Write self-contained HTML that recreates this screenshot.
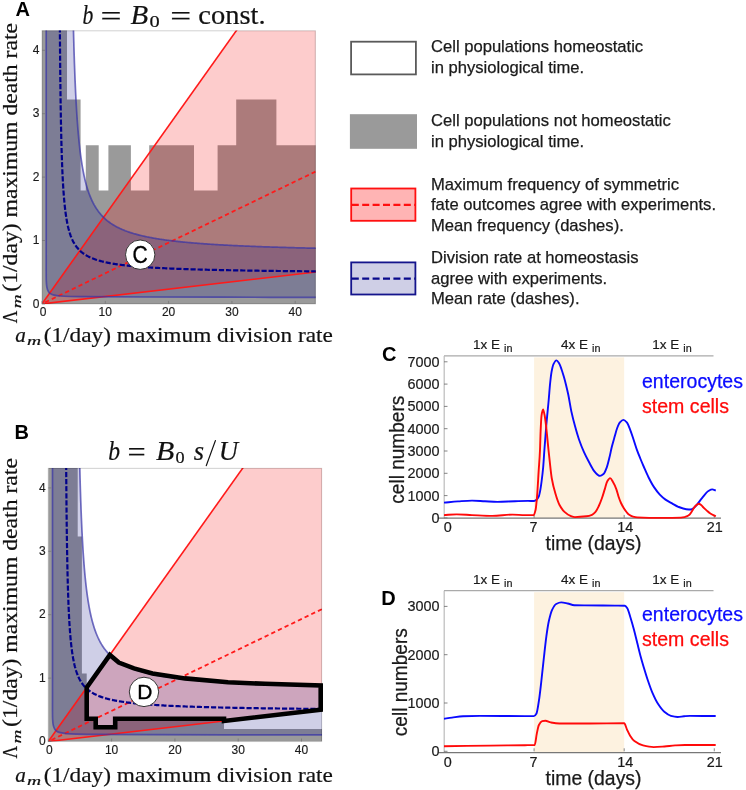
<!DOCTYPE html>
<html><head><meta charset="utf-8"><style>
html,body{margin:0;padding:0;background:#fff;}
body{width:746px;height:790px;overflow:hidden;}
svg{display:block;will-change:transform;}
text{font-family:"Liberation Sans",sans-serif;fill:#111;}
.tk{font-size:12px;fill:#1a1a1a;stroke:#1a1a1a;stroke-width:0.15px;}
.tk2{font-size:14.4px;fill:#1a1a1a;stroke:#1a1a1a;stroke-width:0.2px;}
.pl{font-size:20px;font-weight:bold;fill:#000;}
.pl2{font-size:20px;font-weight:bold;fill:#000;}
.cm{font-size:22.5px;fill:#000;stroke:#000;stroke-width:0.35px;}
.lg{font-size:16.6px;fill:#1a1a1a;stroke:#1a1a1a;stroke-width:0.25px;}
.ax{font-size:19.3px;fill:#1a1a1a;stroke:#1a1a1a;stroke-width:0.25px;}
.el{font-size:13.5px;fill:#1a1a1a;stroke:#1a1a1a;stroke-width:0.2px;}
.mi,.mr,.ms,.mi2,.mr2,.mis{font-family:"Liberation Serif",serif;fill:#111;stroke:#111;stroke-width:0.2px;}
.mi{font-size:27px;font-style:italic;}
.mr{font-size:27px;}
.ms{font-size:17px;}
.mi2{font-size:20px;font-style:italic;}
.mr2{font-size:22px;}
.mis{font-size:13px;font-style:italic;}
</style></head><body>
<svg width="746" height="790" viewBox="0 0 746 790">
<clipPath id="ca"><rect x="42" y="30.39" width="273.71" height="273.51"/></clipPath>
<g clip-path="url(#ca)">
<rect x="42" y="30.39" width="273.71" height="273.51" fill="#fff"/>
<path d="M42 303.9 L42 25 L67 25 L67 99.5 L80.6 99.5 L80.6 190.6 L85.8 190.6 L85.8 145.3 L98.7 145.3 L98.7 190.6 L108.4 190.6 L108.4 145.3 L130.9 145.3 L130.9 190.6 L149.2 190.6 L149.2 145.3 L194 145.3 L194 190.6 L217.6 190.6 L217.6 145.3 L236.2 145.3 L236.2 99.5 L276.4 99.5 L276.4 145.3 L320 145.3 L320 303.9Z" fill="#9a9a9a"/>
<path d="M42 303.9 L236.5 30.39 L421.8 30.39 L421.8 259.62Z" fill="rgb(245,0,0)" fill-opacity="0.2"/>
<path d="M46.2 13.9 L46.2 243.9 L46.2 273.9 L46.35 281.9 L46.9 287.3 L48.3 291.3 L50.4 293.6 L54.1 295.1 L60.1 296 L70 296.5 L86 296.7 L142 297 L222 297.2 L332 297.4 L322.04 248.37 L320.22 248.33 L318.41 248.29 L316.6 248.25 L314.8 248.21 L313.01 248.17 L311.23 248.13 L309.45 248.09 L307.69 248.05 L305.92 248.01 L304.17 247.96 L302.42 247.92 L300.68 247.88 L298.95 247.83 L297.22 247.79 L295.51 247.74 L293.8 247.7 L292.09 247.65 L290.4 247.61 L288.71 247.56 L287.02 247.51 L285.35 247.47 L283.68 247.42 L282.02 247.37 L280.37 247.32 L278.72 247.27 L277.08 247.22 L275.45 247.17 L273.83 247.12 L272.21 247.06 L270.6 247.01 L269 246.96 L267.4 246.9 L265.81 246.85 L264.23 246.8 L262.65 246.74 L261.09 246.68 L259.53 246.63 L257.97 246.57 L256.43 246.51 L254.89 246.45 L253.36 246.39 L251.83 246.33 L250.31 246.27 L248.8 246.21 L247.3 246.15 L245.8 246.08 L244.31 246.02 L242.83 245.96 L241.35 245.89 L239.88 245.83 L238.42 245.76 L236.97 245.69 L235.52 245.62 L234.08 245.55 L232.65 245.48 L231.22 245.41 L229.8 245.34 L228.39 245.27 L226.98 245.19 L225.58 245.12 L224.19 245.04 L222.81 244.97 L221.43 244.89 L220.06 244.81 L218.7 244.73 L217.34 244.65 L215.99 244.57 L214.65 244.49 L213.31 244.41 L211.98 244.32 L210.66 244.24 L209.34 244.15 L208.04 244.06 L206.74 243.97 L205.44 243.88 L204.15 243.79 L202.87 243.7 L201.6 243.61 L200.33 243.51 L199.07 243.42 L197.82 243.32 L196.57 243.22 L195.33 243.12 L194.1 243.02 L192.87 242.92 L191.65 242.81 L190.44 242.71 L189.24 242.6 L188.04 242.49 L186.85 242.38 L185.66 242.27 L184.48 242.16 L183.31 242.04 L182.15 241.93 L180.99 241.81 L179.84 241.69 L178.69 241.57 L177.56 241.45 L176.42 241.32 L175.3 241.19 L174.18 241.07 L173.07 240.94 L171.97 240.8 L170.87 240.67 L169.78 240.53 L168.7 240.4 L167.62 240.26 L166.55 240.11 L165.48 239.97 L164.43 239.82 L163.38 239.68 L162.33 239.52 L161.29 239.37 L160.26 239.22 L159.24 239.06 L158.22 238.9 L157.21 238.74 L156.21 238.57 L155.21 238.4 L154.22 238.23 L153.23 238.06 L152.26 237.88 L151.28 237.7 L150.32 237.52 L149.36 237.34 L148.41 237.15 L147.47 236.96 L146.53 236.77 L145.59 236.57 L144.67 236.37 L143.75 236.17 L142.84 235.96 L141.93 235.75 L141.03 235.53 L140.14 235.32 L139.25 235.1 L138.37 234.87 L137.5 234.64 L136.63 234.41 L135.77 234.17 L134.92 233.93 L134.07 233.69 L133.23 233.44 L132.39 233.18 L131.56 232.93 L130.74 232.66 L129.92 232.4 L129.12 232.12 L128.31 231.85 L127.52 231.56 L126.72 231.28 L125.94 230.98 L125.16 230.69 L124.39 230.38 L123.63 230.07 L122.87 229.76 L122.11 229.44 L121.37 229.11 L120.63 228.78 L119.89 228.44 L119.17 228.09 L118.45 227.74 L117.73 227.38 L117.02 227.02 L116.32 226.64 L115.62 226.26 L114.93 225.87 L114.25 225.48 L113.57 225.07 L112.9 224.66 L112.23 224.24 L111.58 223.81 L110.92 223.38 L110.28 222.93 L109.64 222.48 L109 222.01 L108.37 221.54 L107.75 221.05 L107.13 220.56 L106.52 220.05 L105.92 219.54 L105.32 219.01 L104.73 218.47 L104.14 217.93 L103.56 217.36 L102.99 216.79 L102.42 216.21 L101.86 215.61 L101.3 215 L100.75 214.37 L100.21 213.73 L99.67 213.08 L99.14 212.42 L98.61 211.73 L98.09 211.04 L97.58 210.32 L97.07 209.59 L96.57 208.85 L96.07 208.09 L95.58 207.31 L95.09 206.51 L94.62 205.69 L94.14 204.86 L93.67 204 L93.21 203.13 L92.76 202.23 L92.31 201.31 L91.86 200.38 L91.42 199.42 L90.99 198.43 L90.56 197.43 L90.14 196.4 L89.73 195.34 L89.32 194.26 L88.91 193.16 L88.51 192.03 L88.12 190.87 L87.73 189.68 L87.35 188.46 L86.98 187.22 L86.61 185.94 L86.24 184.64 L85.88 183.3 L85.53 181.93 L85.18 180.53 L84.84 179.09 L84.5 177.62 L84.17 176.12 L83.84 174.57 L83.52 173 L83.21 171.38 L82.9 169.73 L82.59 168.03 L82.29 166.3 L82 164.53 L81.71 162.72 L81.43 160.86 L81.15 158.97 L80.88 157.03 L80.61 155.05 L80.35 153.02 L80.09 150.95 L79.84 148.84 L79.6 146.68 L79.35 144.48 L79.12 142.23 L78.89 139.94 L78.66 137.61 L78.44 135.23 L78.23 132.81 L78.02 130.35 L77.81 127.84 L77.61 125.29 L77.42 122.71 L77.23 120.08 L77.05 117.42 L76.87 114.72 L76.69 111.99 L76.52 109.23 L76.36 106.44 L76.2 103.63 L76.04 100.79 L75.89 97.93 L75.75 95.06 L75.6 92.18 L75.47 89.29 L75.34 86.4 L75.21 83.51 L75.09 80.63 L74.97 77.76 L74.86 74.91 L74.75 72.09 L74.65 69.29 L74.55 66.54 L74.45 63.82 L74.36 61.16 L74.28 58.56 L74.2 56.02 L74.12 53.55 L74.05 51.16 L73.98 48.86 L73.91 46.65 L73.85 44.53 L73.8 42.52 L73.74 40.62 L73.7 38.83 L73.65 37.16 L73.61 35.62 L73.58 34.2 L73.54 32.92 L73.51 31.76 L73.49 30.74 L73.47 29.86 L73.45 29.11 L73.43 28.49 L73.42 28 L73.41 27.64 L73.41 27.39 L73.4 27.26 L73.4 27.22Z" fill="rgb(0,0,126)" fill-opacity="0.19"/>
<path d="M42 303.9 L242.83 21.52" stroke="#ff1a1a" stroke-width="1.6" fill="none"/>
<path d="M42 303.9 L322.04 271.25" stroke="#ff1a1a" stroke-width="1.6" fill="none"/>
<path d="M45.16 302.37 L322.04 168.43" stroke="#ff1a1a" stroke-width="1.8" stroke-dasharray="4.3 3.1" fill="none"/>
<path d="M46.2 13.9 C46.2 52.23 46.2 200.57 46.2 243.9 C46.2 287.23 46.18 267.57 46.2 273.9 C46.23 280.23 46.23 279.67 46.35 281.9 C46.47 284.13 46.58 285.73 46.9 287.3 C47.22 288.87 47.72 290.25 48.3 291.3 C48.88 292.35 49.43 292.97 50.4 293.6 C51.37 294.23 52.48 294.7 54.1 295.1 C55.72 295.5 57.45 295.77 60.1 296 C62.75 296.23 65.68 296.38 70 296.5 C74.32 296.62 74 296.62 86 296.7 C98 296.78 119.33 296.92 142 297 C164.67 297.08 190.33 297.13 222 297.2 C253.67 297.27 313.67 297.37 332 297.4" stroke="rgb(54,50,166)" stroke-opacity="0.7" stroke-width="1.7" fill="none"/>
<path d="M73.4 27.22 L73.4 27.26 L73.41 27.39 L73.41 27.64 L73.42 28 L73.43 28.49 L73.45 29.11 L73.47 29.86 L73.49 30.74 L73.51 31.76 L73.54 32.92 L73.58 34.2 L73.61 35.62 L73.65 37.16 L73.7 38.83 L73.74 40.62 L73.8 42.52 L73.85 44.53 L73.91 46.65 L73.98 48.86 L74.05 51.16 L74.12 53.55 L74.2 56.02 L74.28 58.56 L74.36 61.16 L74.45 63.82 L74.55 66.54 L74.65 69.29 L74.75 72.09 L74.86 74.91 L74.97 77.76 L75.09 80.63 L75.21 83.51 L75.34 86.4 L75.47 89.29 L75.6 92.18 L75.75 95.06 L75.89 97.93 L76.04 100.79 L76.2 103.63 L76.36 106.44 L76.52 109.23 L76.69 111.99 L76.87 114.72 L77.05 117.42 L77.23 120.08 L77.42 122.71 L77.61 125.29 L77.81 127.84 L78.02 130.35 L78.23 132.81 L78.44 135.23 L78.66 137.61 L78.89 139.94 L79.12 142.23 L79.35 144.48 L79.6 146.68 L79.84 148.84 L80.09 150.95 L80.35 153.02 L80.61 155.05 L80.88 157.03 L81.15 158.97 L81.43 160.86 L81.71 162.72 L82 164.53 L82.29 166.3 L82.59 168.03 L82.9 169.73 L83.21 171.38 L83.52 173 L83.84 174.57 L84.17 176.12 L84.5 177.62 L84.84 179.09 L85.18 180.53 L85.53 181.93 L85.88 183.3 L86.24 184.64 L86.61 185.94 L86.98 187.22 L87.35 188.46 L87.73 189.68 L88.12 190.87 L88.51 192.03 L88.91 193.16 L89.32 194.26 L89.73 195.34 L90.14 196.4 L90.56 197.43 L90.99 198.43 L91.42 199.42 L91.86 200.38 L92.31 201.31 L92.76 202.23 L93.21 203.13 L93.67 204 L94.14 204.86 L94.62 205.69 L95.09 206.51 L95.58 207.31 L96.07 208.09 L96.57 208.85 L97.07 209.59 L97.58 210.32 L98.09 211.04 L98.61 211.73 L99.14 212.42 L99.67 213.08 L100.21 213.73 L100.75 214.37 L101.3 215 L101.86 215.61 L102.42 216.21 L102.99 216.79 L103.56 217.36 L104.14 217.93 L104.73 218.47 L105.32 219.01 L105.92 219.54 L106.52 220.05 L107.13 220.56 L107.75 221.05 L108.37 221.54 L109 222.01 L109.64 222.48 L110.28 222.93 L110.92 223.38 L111.58 223.81 L112.23 224.24 L112.9 224.66 L113.57 225.07 L114.25 225.48 L114.93 225.87 L115.62 226.26 L116.32 226.64 L117.02 227.02 L117.73 227.38 L118.45 227.74 L119.17 228.09 L119.89 228.44 L120.63 228.78 L121.37 229.11 L122.11 229.44 L122.87 229.76 L123.63 230.07 L124.39 230.38 L125.16 230.69 L125.94 230.98 L126.72 231.28 L127.52 231.56 L128.31 231.85 L129.12 232.12 L129.92 232.4 L130.74 232.66 L131.56 232.93 L132.39 233.18 L133.23 233.44 L134.07 233.69 L134.92 233.93 L135.77 234.17 L136.63 234.41 L137.5 234.64 L138.37 234.87 L139.25 235.1 L140.14 235.32 L141.03 235.53 L141.93 235.75 L142.84 235.96 L143.75 236.17 L144.67 236.37 L145.59 236.57 L146.53 236.77 L147.47 236.96 L148.41 237.15 L149.36 237.34 L150.32 237.52 L151.28 237.7 L152.26 237.88 L153.23 238.06 L154.22 238.23 L155.21 238.4 L156.21 238.57 L157.21 238.74 L158.22 238.9 L159.24 239.06 L160.26 239.22 L161.29 239.37 L162.33 239.52 L163.38 239.68 L164.43 239.82 L165.48 239.97 L166.55 240.11 L167.62 240.26 L168.7 240.4 L169.78 240.53 L170.87 240.67 L171.97 240.8 L173.07 240.94 L174.18 241.07 L175.3 241.19 L176.42 241.32 L177.56 241.45 L178.69 241.57 L179.84 241.69 L180.99 241.81 L182.15 241.93 L183.31 242.04 L184.48 242.16 L185.66 242.27 L186.85 242.38 L188.04 242.49 L189.24 242.6 L190.44 242.71 L191.65 242.81 L192.87 242.92 L194.1 243.02 L195.33 243.12 L196.57 243.22 L197.82 243.32 L199.07 243.42 L200.33 243.51 L201.6 243.61 L202.87 243.7 L204.15 243.79 L205.44 243.88 L206.74 243.97 L208.04 244.06 L209.34 244.15 L210.66 244.24 L211.98 244.32 L213.31 244.41 L214.65 244.49 L215.99 244.57 L217.34 244.65 L218.7 244.73 L220.06 244.81 L221.43 244.89 L222.81 244.97 L224.19 245.04 L225.58 245.12 L226.98 245.19 L228.39 245.27 L229.8 245.34 L231.22 245.41 L232.65 245.48 L234.08 245.55 L235.52 245.62 L236.97 245.69 L238.42 245.76 L239.88 245.83 L241.35 245.89 L242.83 245.96 L244.31 246.02 L245.8 246.08 L247.3 246.15 L248.8 246.21 L250.31 246.27 L251.83 246.33 L253.36 246.39 L254.89 246.45 L256.43 246.51 L257.97 246.57 L259.53 246.63 L261.09 246.68 L262.65 246.74 L264.23 246.8 L265.81 246.85 L267.4 246.9 L269 246.96 L270.6 247.01 L272.21 247.06 L273.83 247.12 L275.45 247.17 L277.08 247.22 L278.72 247.27 L280.37 247.32 L282.02 247.37 L283.68 247.42 L285.35 247.47 L287.02 247.51 L288.71 247.56 L290.4 247.61 L292.09 247.65 L293.8 247.7 L295.51 247.74 L297.22 247.79 L298.95 247.83 L300.68 247.88 L302.42 247.92 L304.17 247.96 L305.92 248.01 L307.69 248.05 L309.45 248.09 L311.23 248.13 L313.01 248.17 L314.8 248.21 L316.6 248.25 L318.41 248.29 L320.22 248.33 L322.04 248.37" stroke="rgb(54,50,166)" stroke-opacity="0.7" stroke-width="1.7" fill="none"/>
<path d="M59.86 27.22 L59.86 27.36 L59.87 27.85 L59.87 28.75 L59.88 30.09 L59.9 31.87 L59.91 34.09 L59.93 36.75 L59.95 39.82 L59.98 43.29 L60.01 47.12 L60.05 51.28 L60.08 55.73 L60.13 60.43 L60.17 65.35 L60.22 70.44 L60.28 75.66 L60.34 80.98 L60.4 86.35 L60.47 91.76 L60.54 97.16 L60.62 102.54 L60.7 107.86 L60.79 113.11 L60.88 118.27 L60.97 123.33 L61.07 128.28 L61.18 133.1 L61.28 137.79 L61.4 142.34 L61.52 146.75 L61.64 151.02 L61.77 155.14 L61.9 159.12 L62.04 162.96 L62.19 166.65 L62.33 170.21 L62.49 173.64 L62.65 176.93 L62.81 180.1 L62.98 183.14 L63.15 186.06 L63.33 188.86 L63.52 191.56 L63.71 194.15 L63.9 196.63 L64.1 199.02 L64.31 201.31 L64.52 203.51 L64.73 205.62 L64.95 207.65 L65.18 209.6 L65.41 211.47 L65.65 213.27 L65.89 215 L66.14 216.66 L66.39 218.26 L66.65 219.8 L66.92 221.28 L67.19 222.71 L67.46 224.08 L67.75 225.4 L68.03 226.68 L68.33 227.9 L68.62 229.08 L68.93 230.22 L69.24 231.32 L69.55 232.38 L69.87 233.41 L70.2 234.39 L70.53 235.35 L70.87 236.27 L71.22 237.16 L71.56 238.02 L71.92 238.85 L72.28 239.66 L72.65 240.43 L73.02 241.19 L73.4 241.92 L73.79 242.62 L74.18 243.3 L74.57 243.97 L74.98 244.61 L75.38 245.23 L75.8 245.83 L76.22 246.41 L76.64 246.98 L77.08 247.53 L77.52 248.06 L77.96 248.58 L78.41 249.09 L78.87 249.57 L79.33 250.05 L79.8 250.51 L80.27 250.96 L80.75 251.39 L81.24 251.82 L81.73 252.23 L82.23 252.63 L82.74 253.02 L83.25 253.4 L83.77 253.77 L84.29 254.13 L84.82 254.48 L85.36 254.82 L85.9 255.15 L86.45 255.48 L87 255.79 L87.56 256.1 L88.13 256.4 L88.7 256.69 L89.28 256.98 L89.87 257.26 L90.46 257.53 L91.06 257.8 L91.67 258.06 L92.28 258.31 L92.9 258.56 L93.52 258.8 L94.15 259.03 L94.79 259.26 L95.43 259.49 L96.08 259.71 L96.74 259.93 L97.4 260.14 L98.07 260.34 L98.74 260.54 L99.43 260.74 L100.12 260.93 L100.81 261.12 L101.51 261.3 L102.22 261.49 L102.93 261.66 L103.66 261.84 L104.38 262 L105.12 262.17 L105.86 262.33 L106.61 262.49 L107.36 262.65 L108.12 262.8 L108.89 262.95 L109.66 263.1 L110.44 263.24 L111.23 263.38 L112.02 263.52 L112.82 263.66 L113.63 263.79 L114.44 263.92 L115.26 264.05 L116.09 264.17 L116.92 264.3 L117.76 264.42 L118.61 264.54 L119.46 264.65 L120.32 264.77 L121.19 264.88 L122.06 264.99 L122.95 265.1 L123.83 265.2 L124.73 265.31 L125.63 265.41 L126.54 265.51 L127.45 265.61 L128.37 265.71 L129.3 265.8 L130.23 265.9 L131.18 265.99 L132.12 266.08 L133.08 266.17 L134.04 266.26 L135.01 266.34 L135.99 266.43 L136.97 266.51 L137.96 266.59 L138.96 266.67 L139.96 266.75 L140.97 266.83 L141.99 266.91 L143.01 266.99 L144.04 267.06 L145.08 267.13 L146.13 267.2 L147.18 267.28 L148.24 267.35 L149.3 267.41 L150.37 267.48 L151.45 267.55 L152.54 267.61 L153.64 267.68 L154.74 267.74 L155.84 267.81 L156.96 267.87 L158.08 267.93 L159.21 267.99 L160.35 268.05 L161.49 268.11 L162.64 268.16 L163.8 268.22 L164.96 268.27 L166.13 268.33 L167.31 268.38 L168.5 268.44 L169.69 268.49 L170.89 268.54 L172.09 268.59 L173.31 268.64 L174.53 268.69 L175.76 268.74 L176.99 268.79 L178.24 268.84 L179.48 268.88 L180.74 268.93 L182.01 268.98 L183.28 269.02 L184.55 269.07 L185.84 269.11 L187.13 269.15 L188.43 269.2 L189.74 269.24 L191.05 269.28 L192.38 269.32 L193.7 269.36 L195.04 269.4 L196.38 269.44 L197.73 269.48 L199.09 269.52 L200.46 269.56 L201.83 269.59 L203.21 269.63 L204.6 269.67 L205.99 269.7 L207.39 269.74 L208.8 269.78 L210.22 269.81 L211.64 269.84 L213.07 269.88 L214.51 269.91 L215.95 269.95 L217.41 269.98 L218.86 270.01 L220.33 270.04 L221.81 270.07 L223.29 270.11 L224.78 270.14 L226.27 270.17 L227.78 270.2 L229.29 270.23 L230.81 270.26 L232.34 270.28 L233.87 270.31 L235.41 270.34 L236.96 270.37 L238.52 270.4 L240.08 270.43 L241.65 270.45 L243.23 270.48 L244.81 270.51 L246.41 270.53 L248.01 270.56 L249.61 270.58 L251.23 270.61 L252.85 270.63 L254.48 270.66 L256.12 270.68 L257.77 270.71 L259.42 270.73 L261.08 270.75 L262.75 270.78 L264.42 270.8 L266.11 270.82 L267.8 270.85 L269.5 270.87 L271.2 270.89 L272.91 270.91 L274.64 270.94 L276.36 270.96 L278.1 270.98 L279.84 271 L281.59 271.02 L283.35 271.04 L285.12 271.06 L286.89 271.08 L288.67 271.1 L290.46 271.12 L292.26 271.14 L294.06 271.16 L295.87 271.18 L297.69 271.2 L299.52 271.22 L301.35 271.24 L303.2 271.25 L305.05 271.27 L306.9 271.29 L308.77 271.31 L310.64 271.33 L312.52 271.34 L314.41 271.36 L316.31 271.38 L318.21 271.4 L320.12 271.41 L322.04 271.43" stroke="#00008c" stroke-width="2.2" stroke-dasharray="5.2 1.9" fill="none"/>
</g>

<rect x="42" y="30.79" width="273.31" height="273.11" fill="none" stroke="#000" stroke-opacity="0.17" stroke-width="1.1"/>
<path d="M42 303.9 h3" stroke="#777" stroke-width="0.8"/>
<text x="39.4" y="307.5" text-anchor="end" class="tk">0</text>
<path d="M42 240.5 h3" stroke="#777" stroke-width="0.8"/>
<text x="39.4" y="244.1" text-anchor="end" class="tk">1</text>
<path d="M42 177.1 h3" stroke="#777" stroke-width="0.8"/>
<text x="39.4" y="180.7" text-anchor="end" class="tk">2</text>
<path d="M42 113.7 h3" stroke="#777" stroke-width="0.8"/>
<text x="39.4" y="117.3" text-anchor="end" class="tk">3</text>
<path d="M42 50.3 h3" stroke="#777" stroke-width="0.8"/>
<text x="39.4" y="53.9" text-anchor="end" class="tk">4</text>
<path d="M42 303.9 v-3" stroke="#777" stroke-width="0.8"/>
<text x="43" y="316.1" text-anchor="middle" class="tk">0</text>
<path d="M105.3 303.9 v-3" stroke="#777" stroke-width="0.8"/>
<text x="105.3" y="316.1" text-anchor="middle" class="tk">10</text>
<path d="M168.6 303.9 v-3" stroke="#777" stroke-width="0.8"/>
<text x="168.6" y="316.1" text-anchor="middle" class="tk">20</text>
<path d="M231.9 303.9 v-3" stroke="#777" stroke-width="0.8"/>
<text x="231.9" y="316.1" text-anchor="middle" class="tk">30</text>
<path d="M295.2 303.9 v-3" stroke="#777" stroke-width="0.8"/>
<text x="295.2" y="316.1" text-anchor="middle" class="tk">40</text>
<clipPath id="cb"><rect x="48.3" y="467.99" width="273.71" height="273.51"/></clipPath>
<g clip-path="url(#cb)">
<rect x="48.3" y="467.99" width="273.71" height="273.51" fill="#fff"/>
<path d="M48.3 741.5 L48.3 460 L77.7 460 L77.7 536.6 L81.9 536.6 L81.9 673.6 L86.7 673.6 L86.7 718.8 L95.7 718.8 L95.7 727.2 L115.2 727.2 L115.2 718.8 L224 718.8 L224 728.9 L330 728.9 L330 741.5Z" fill="#9a9a9a"/>
<path d="M48.3 741.5 L242.8 467.99 L428.1 467.99 L428.1 697.22Z" fill="rgb(245,0,0)" fill-opacity="0.2"/>
<path d="M52.5 451.5 L52.5 681.5 L52.5 711.5 L52.65 719.5 L53.2 724.9 L54.6 728.9 L56.7 731.2 L60.4 732.7 L66.4 733.6 L76.3 734.1 L92.3 734.3 L148.3 734.6 L228.3 734.8 L338.3 735 L328.34 685.97 L326.52 685.93 L324.71 685.89 L322.9 685.85 L321.1 685.81 L319.31 685.77 L317.53 685.73 L315.75 685.69 L313.99 685.65 L312.22 685.61 L310.47 685.56 L308.72 685.52 L306.98 685.48 L305.25 685.43 L303.52 685.39 L301.81 685.34 L300.1 685.3 L298.39 685.25 L296.7 685.21 L295.01 685.16 L293.32 685.11 L291.65 685.07 L289.98 685.02 L288.32 684.97 L286.67 684.92 L285.02 684.87 L283.38 684.82 L281.75 684.77 L280.13 684.72 L278.51 684.66 L276.9 684.61 L275.3 684.56 L273.7 684.5 L272.11 684.45 L270.53 684.4 L268.95 684.34 L267.39 684.28 L265.83 684.23 L264.27 684.17 L262.73 684.11 L261.19 684.05 L259.66 683.99 L258.13 683.93 L256.61 683.87 L255.1 683.81 L253.6 683.75 L252.1 683.68 L250.61 683.62 L249.13 683.56 L247.65 683.49 L246.18 683.43 L244.72 683.36 L243.27 683.29 L241.82 683.22 L240.38 683.15 L238.95 683.08 L237.52 683.01 L236.1 682.94 L234.69 682.87 L233.28 682.79 L231.88 682.72 L230.49 682.64 L229.11 682.57 L227.73 682.49 L226.36 682.41 L225 682.33 L223.64 682.25 L222.29 682.17 L220.95 682.09 L219.61 682.01 L218.28 681.92 L216.96 681.84 L215.64 681.75 L214.34 681.66 L213.04 681.57 L211.74 681.48 L210.45 681.39 L209.17 681.3 L207.9 681.21 L206.63 681.11 L205.37 681.02 L204.12 680.92 L202.87 680.82 L201.63 680.72 L200.4 680.62 L199.17 680.52 L197.95 680.41 L196.74 680.31 L195.54 680.2 L194.34 680.09 L193.15 679.98 L191.96 679.87 L190.78 679.76 L189.61 679.64 L188.45 679.53 L187.29 679.41 L186.14 679.29 L184.99 679.17 L183.86 679.05 L182.72 678.92 L181.6 678.79 L180.48 678.67 L179.37 678.54 L178.27 678.4 L177.17 678.27 L176.08 678.13 L175 678 L173.92 677.86 L172.85 677.71 L171.78 677.57 L170.73 677.42 L169.68 677.28 L168.63 677.12 L167.59 676.97 L166.56 676.82 L165.54 676.66 L164.52 676.5 L163.51 676.34 L162.51 676.17 L161.51 676 L160.52 675.83 L159.53 675.66 L158.56 675.48 L157.58 675.3 L156.62 675.12 L155.66 674.94 L154.71 674.75 L153.77 674.56 L152.83 674.37 L151.89 674.17 L150.97 673.97 L150.05 673.77 L149.14 673.56 L148.23 673.35 L147.33 673.13 L146.44 672.92 L145.55 672.7 L144.67 672.47 L143.8 672.24 L142.93 672.01 L142.07 671.77 L141.22 671.53 L140.37 671.29 L139.53 671.04 L138.69 670.78 L137.86 670.53 L137.04 670.26 L136.22 670 L135.42 669.72 L134.61 669.45 L133.82 669.16 L133.02 668.88 L132.24 668.58 L131.46 668.29 L130.69 667.98 L129.93 667.67 L129.17 667.36 L128.41 667.04 L127.67 666.71 L126.93 666.38 L126.19 666.04 L125.47 665.69 L124.75 665.34 L124.03 664.98 L123.32 664.62 L122.62 664.24 L121.92 663.86 L121.23 663.47 L120.55 663.08 L119.87 662.67 L119.2 662.26 L118.53 661.84 L117.88 661.41 L117.22 660.98 L116.58 660.53 L115.94 660.08 L115.3 659.61 L114.67 659.14 L114.05 658.65 L113.43 658.16 L112.82 657.65 L112.22 657.14 L111.62 656.61 L111.03 656.07 L110.44 655.53 L109.86 654.96 L109.29 654.39 L108.72 653.81 L108.16 653.21 L107.6 652.6 L107.05 651.97 L106.51 651.33 L105.97 650.68 L105.44 650.02 L104.91 649.33 L104.39 648.64 L103.88 647.92 L103.37 647.19 L102.87 646.45 L102.37 645.69 L101.88 644.91 L101.39 644.11 L100.92 643.29 L100.44 642.46 L99.97 641.6 L99.51 640.73 L99.06 639.83 L98.61 638.91 L98.16 637.98 L97.72 637.02 L97.29 636.03 L96.86 635.03 L96.44 634 L96.03 632.94 L95.62 631.86 L95.21 630.76 L94.81 629.63 L94.42 628.47 L94.03 627.28 L93.65 626.06 L93.28 624.82 L92.91 623.54 L92.54 622.24 L92.18 620.9 L91.83 619.53 L91.48 618.13 L91.14 616.69 L90.8 615.22 L90.47 613.72 L90.14 612.17 L89.82 610.6 L89.51 608.98 L89.2 607.33 L88.89 605.63 L88.59 603.9 L88.3 602.13 L88.01 600.32 L87.73 598.46 L87.45 596.57 L87.18 594.63 L86.91 592.65 L86.65 590.62 L86.39 588.55 L86.14 586.44 L85.9 584.28 L85.65 582.08 L85.42 579.83 L85.19 577.54 L84.96 575.21 L84.74 572.83 L84.53 570.41 L84.32 567.95 L84.11 565.44 L83.91 562.89 L83.72 560.31 L83.53 557.68 L83.35 555.02 L83.17 552.32 L82.99 549.59 L82.82 546.83 L82.66 544.04 L82.5 541.23 L82.34 538.39 L82.19 535.53 L82.05 532.66 L81.9 529.78 L81.77 526.89 L81.64 524 L81.51 521.11 L81.39 518.23 L81.27 515.36 L81.16 512.51 L81.05 509.69 L80.95 506.89 L80.85 504.14 L80.75 501.42 L80.66 498.76 L80.58 496.16 L80.5 493.62 L80.42 491.15 L80.35 488.76 L80.28 486.46 L80.21 484.25 L80.15 482.13 L80.1 480.12 L80.04 478.22 L80 476.43 L79.95 474.76 L79.91 473.22 L79.88 471.8 L79.84 470.52 L79.81 469.36 L79.79 468.34 L79.77 467.46 L79.75 466.71 L79.73 466.09 L79.72 465.6 L79.71 465.24 L79.71 464.99 L79.7 464.86 L79.7 464.82Z" fill="rgb(0,0,126)" fill-opacity="0.19"/>
<path d="M48.3 741.5 L249.13 459.12" stroke="#ff1a1a" stroke-width="1.6" fill="none"/>
<path d="M48.3 741.5 L328.34 708.85" stroke="#ff1a1a" stroke-width="1.6" fill="none"/>
<path d="M51.46 739.97 L328.34 606.03" stroke="#ff1a1a" stroke-width="1.8" stroke-dasharray="4.3 3.1" fill="none"/>
<path d="M52.5 451.5 C52.5 489.83 52.5 638.17 52.5 681.5 C52.5 724.83 52.48 705.17 52.5 711.5 C52.52 717.83 52.53 717.27 52.65 719.5 C52.77 721.73 52.88 723.33 53.2 724.9 C53.52 726.47 54.02 727.85 54.6 728.9 C55.18 729.95 55.73 730.57 56.7 731.2 C57.67 731.83 58.78 732.3 60.4 732.7 C62.02 733.1 63.75 733.37 66.4 733.6 C69.05 733.83 71.98 733.98 76.3 734.1 C80.62 734.22 80.3 734.22 92.3 734.3 C104.3 734.38 125.63 734.52 148.3 734.6 C170.97 734.68 196.63 734.73 228.3 734.8 C259.97 734.87 319.97 734.97 338.3 735" stroke="rgb(54,50,166)" stroke-opacity="0.7" stroke-width="1.7" fill="none"/>
<path d="M79.7 464.82 L79.7 464.86 L79.71 464.99 L79.71 465.24 L79.72 465.6 L79.73 466.09 L79.75 466.71 L79.77 467.46 L79.79 468.34 L79.81 469.36 L79.84 470.52 L79.88 471.8 L79.91 473.22 L79.95 474.76 L80 476.43 L80.04 478.22 L80.1 480.12 L80.15 482.13 L80.21 484.25 L80.28 486.46 L80.35 488.76 L80.42 491.15 L80.5 493.62 L80.58 496.16 L80.66 498.76 L80.75 501.42 L80.85 504.14 L80.95 506.89 L81.05 509.69 L81.16 512.51 L81.27 515.36 L81.39 518.23 L81.51 521.11 L81.64 524 L81.77 526.89 L81.9 529.78 L82.05 532.66 L82.19 535.53 L82.34 538.39 L82.5 541.23 L82.66 544.04 L82.82 546.83 L82.99 549.59 L83.17 552.32 L83.35 555.02 L83.53 557.68 L83.72 560.31 L83.91 562.89 L84.11 565.44 L84.32 567.95 L84.53 570.41 L84.74 572.83 L84.96 575.21 L85.19 577.54 L85.42 579.83 L85.65 582.08 L85.9 584.28 L86.14 586.44 L86.39 588.55 L86.65 590.62 L86.91 592.65 L87.18 594.63 L87.45 596.57 L87.73 598.46 L88.01 600.32 L88.3 602.13 L88.59 603.9 L88.89 605.63 L89.2 607.33 L89.51 608.98 L89.82 610.6 L90.14 612.17 L90.47 613.72 L90.8 615.22 L91.14 616.69 L91.48 618.13 L91.83 619.53 L92.18 620.9 L92.54 622.24 L92.91 623.54 L93.28 624.82 L93.65 626.06 L94.03 627.28 L94.42 628.47 L94.81 629.63 L95.21 630.76 L95.62 631.86 L96.03 632.94 L96.44 634 L96.86 635.03 L97.29 636.03 L97.72 637.02 L98.16 637.98 L98.61 638.91 L99.06 639.83 L99.51 640.73 L99.97 641.6 L100.44 642.46 L100.92 643.29 L101.39 644.11 L101.88 644.91 L102.37 645.69 L102.87 646.45 L103.37 647.19 L103.88 647.92 L104.39 648.64 L104.91 649.33 L105.44 650.02 L105.97 650.68 L106.51 651.33 L107.05 651.97 L107.6 652.6 L108.16 653.21 L108.72 653.81 L109.29 654.39 L109.86 654.96 L110.44 655.53 L111.03 656.07 L111.62 656.61 L112.22 657.14 L112.82 657.65 L113.43 658.16 L114.05 658.65 L114.67 659.14 L115.3 659.61 L115.94 660.08 L116.58 660.53 L117.22 660.98 L117.88 661.41 L118.53 661.84 L119.2 662.26 L119.87 662.67 L120.55 663.08 L121.23 663.47 L121.92 663.86 L122.62 664.24 L123.32 664.62 L124.03 664.98 L124.75 665.34 L125.47 665.69 L126.19 666.04 L126.93 666.38 L127.67 666.71 L128.41 667.04 L129.17 667.36 L129.93 667.67 L130.69 667.98 L131.46 668.29 L132.24 668.58 L133.02 668.88 L133.82 669.16 L134.61 669.45 L135.42 669.72 L136.22 670 L137.04 670.26 L137.86 670.53 L138.69 670.78 L139.53 671.04 L140.37 671.29 L141.22 671.53 L142.07 671.77 L142.93 672.01 L143.8 672.24 L144.67 672.47 L145.55 672.7 L146.44 672.92 L147.33 673.13 L148.23 673.35 L149.14 673.56 L150.05 673.77 L150.97 673.97 L151.89 674.17 L152.83 674.37 L153.77 674.56 L154.71 674.75 L155.66 674.94 L156.62 675.12 L157.58 675.3 L158.56 675.48 L159.53 675.66 L160.52 675.83 L161.51 676 L162.51 676.17 L163.51 676.34 L164.52 676.5 L165.54 676.66 L166.56 676.82 L167.59 676.97 L168.63 677.12 L169.68 677.28 L170.73 677.42 L171.78 677.57 L172.85 677.71 L173.92 677.86 L175 678 L176.08 678.13 L177.17 678.27 L178.27 678.4 L179.37 678.54 L180.48 678.67 L181.6 678.79 L182.72 678.92 L183.86 679.05 L184.99 679.17 L186.14 679.29 L187.29 679.41 L188.45 679.53 L189.61 679.64 L190.78 679.76 L191.96 679.87 L193.15 679.98 L194.34 680.09 L195.54 680.2 L196.74 680.31 L197.95 680.41 L199.17 680.52 L200.4 680.62 L201.63 680.72 L202.87 680.82 L204.12 680.92 L205.37 681.02 L206.63 681.11 L207.9 681.21 L209.17 681.3 L210.45 681.39 L211.74 681.48 L213.04 681.57 L214.34 681.66 L215.64 681.75 L216.96 681.84 L218.28 681.92 L219.61 682.01 L220.95 682.09 L222.29 682.17 L223.64 682.25 L225 682.33 L226.36 682.41 L227.73 682.49 L229.11 682.57 L230.49 682.64 L231.88 682.72 L233.28 682.79 L234.69 682.87 L236.1 682.94 L237.52 683.01 L238.95 683.08 L240.38 683.15 L241.82 683.22 L243.27 683.29 L244.72 683.36 L246.18 683.43 L247.65 683.49 L249.13 683.56 L250.61 683.62 L252.1 683.68 L253.6 683.75 L255.1 683.81 L256.61 683.87 L258.13 683.93 L259.66 683.99 L261.19 684.05 L262.73 684.11 L264.27 684.17 L265.83 684.23 L267.39 684.28 L268.95 684.34 L270.53 684.4 L272.11 684.45 L273.7 684.5 L275.3 684.56 L276.9 684.61 L278.51 684.66 L280.13 684.72 L281.75 684.77 L283.38 684.82 L285.02 684.87 L286.67 684.92 L288.32 684.97 L289.98 685.02 L291.65 685.07 L293.32 685.11 L295.01 685.16 L296.7 685.21 L298.39 685.25 L300.1 685.3 L301.81 685.34 L303.52 685.39 L305.25 685.43 L306.98 685.48 L308.72 685.52 L310.47 685.56 L312.22 685.61 L313.99 685.65 L315.75 685.69 L317.53 685.73 L319.31 685.77 L321.1 685.81 L322.9 685.85 L324.71 685.89 L326.52 685.93 L328.34 685.97" stroke="rgb(54,50,166)" stroke-opacity="0.7" stroke-width="1.7" fill="none"/>
<path d="M66.16 464.82 L66.16 464.96 L66.17 465.45 L66.17 466.35 L66.18 467.69 L66.2 469.47 L66.21 471.69 L66.23 474.35 L66.25 477.42 L66.28 480.89 L66.31 484.72 L66.35 488.88 L66.38 493.33 L66.43 498.03 L66.47 502.95 L66.52 508.04 L66.58 513.26 L66.64 518.58 L66.7 523.95 L66.77 529.36 L66.84 534.76 L66.92 540.14 L67 545.46 L67.09 550.71 L67.18 555.87 L67.27 560.93 L67.37 565.88 L67.48 570.7 L67.58 575.39 L67.7 579.94 L67.82 584.35 L67.94 588.62 L68.07 592.74 L68.2 596.72 L68.34 600.56 L68.49 604.25 L68.63 607.81 L68.79 611.24 L68.95 614.53 L69.11 617.7 L69.28 620.74 L69.45 623.66 L69.63 626.46 L69.82 629.16 L70.01 631.75 L70.2 634.23 L70.4 636.62 L70.61 638.91 L70.82 641.11 L71.03 643.22 L71.25 645.25 L71.48 647.2 L71.71 649.07 L71.95 650.87 L72.19 652.6 L72.44 654.26 L72.69 655.86 L72.95 657.4 L73.22 658.88 L73.49 660.31 L73.76 661.68 L74.05 663 L74.33 664.28 L74.63 665.5 L74.92 666.68 L75.23 667.82 L75.54 668.92 L75.85 669.98 L76.17 671.01 L76.5 671.99 L76.83 672.95 L77.17 673.87 L77.52 674.76 L77.86 675.62 L78.22 676.45 L78.58 677.26 L78.95 678.03 L79.32 678.79 L79.7 679.52 L80.09 680.22 L80.48 680.9 L80.87 681.57 L81.28 682.21 L81.68 682.83 L82.1 683.43 L82.52 684.01 L82.94 684.58 L83.38 685.13 L83.82 685.66 L84.26 686.18 L84.71 686.69 L85.17 687.17 L85.63 687.65 L86.1 688.11 L86.57 688.56 L87.05 688.99 L87.54 689.42 L88.03 689.83 L88.53 690.23 L89.04 690.62 L89.55 691 L90.07 691.37 L90.59 691.73 L91.12 692.08 L91.66 692.42 L92.2 692.75 L92.75 693.08 L93.3 693.39 L93.86 693.7 L94.43 694 L95 694.29 L95.58 694.58 L96.17 694.86 L96.76 695.13 L97.36 695.4 L97.97 695.66 L98.58 695.91 L99.2 696.16 L99.82 696.4 L100.45 696.63 L101.09 696.86 L101.73 697.09 L102.38 697.31 L103.04 697.53 L103.7 697.74 L104.37 697.94 L105.04 698.14 L105.73 698.34 L106.42 698.53 L107.11 698.72 L107.81 698.9 L108.52 699.09 L109.23 699.26 L109.96 699.44 L110.68 699.6 L111.42 699.77 L112.16 699.93 L112.91 700.09 L113.66 700.25 L114.42 700.4 L115.19 700.55 L115.96 700.7 L116.74 700.84 L117.53 700.98 L118.32 701.12 L119.12 701.26 L119.93 701.39 L120.74 701.52 L121.56 701.65 L122.39 701.77 L123.22 701.9 L124.06 702.02 L124.91 702.14 L125.76 702.25 L126.62 702.37 L127.49 702.48 L128.36 702.59 L129.25 702.7 L130.13 702.8 L131.03 702.91 L131.93 703.01 L132.84 703.11 L133.75 703.21 L134.67 703.31 L135.6 703.4 L136.53 703.5 L137.48 703.59 L138.42 703.68 L139.38 703.77 L140.34 703.86 L141.31 703.94 L142.29 704.03 L143.27 704.11 L144.26 704.19 L145.26 704.27 L146.26 704.35 L147.27 704.43 L148.29 704.51 L149.31 704.59 L150.34 704.66 L151.38 704.73 L152.43 704.8 L153.48 704.88 L154.54 704.95 L155.6 705.01 L156.67 705.08 L157.75 705.15 L158.84 705.21 L159.94 705.28 L161.04 705.34 L162.14 705.41 L163.26 705.47 L164.38 705.53 L165.51 705.59 L166.65 705.65 L167.79 705.71 L168.94 705.76 L170.1 705.82 L171.26 705.87 L172.43 705.93 L173.61 705.98 L174.8 706.04 L175.99 706.09 L177.19 706.14 L178.39 706.19 L179.61 706.24 L180.83 706.29 L182.06 706.34 L183.29 706.39 L184.54 706.44 L185.78 706.48 L187.04 706.53 L188.31 706.58 L189.58 706.62 L190.85 706.67 L192.14 706.71 L193.43 706.75 L194.73 706.8 L196.04 706.84 L197.35 706.88 L198.68 706.92 L200 706.96 L201.34 707 L202.68 707.04 L204.03 707.08 L205.39 707.12 L206.76 707.16 L208.13 707.19 L209.51 707.23 L210.9 707.27 L212.29 707.3 L213.69 707.34 L215.1 707.38 L216.52 707.41 L217.94 707.44 L219.37 707.48 L220.81 707.51 L222.25 707.55 L223.71 707.58 L225.16 707.61 L226.63 707.64 L228.11 707.67 L229.59 707.71 L231.08 707.74 L232.57 707.77 L234.08 707.8 L235.59 707.83 L237.11 707.86 L238.64 707.88 L240.17 707.91 L241.71 707.94 L243.26 707.97 L244.82 708 L246.38 708.03 L247.95 708.05 L249.53 708.08 L251.11 708.11 L252.71 708.13 L254.31 708.16 L255.91 708.18 L257.53 708.21 L259.15 708.23 L260.78 708.26 L262.42 708.28 L264.07 708.31 L265.72 708.33 L267.38 708.35 L269.05 708.38 L270.72 708.4 L272.41 708.42 L274.1 708.45 L275.8 708.47 L277.5 708.49 L279.21 708.51 L280.94 708.54 L282.66 708.56 L284.4 708.58 L286.14 708.6 L287.89 708.62 L289.65 708.64 L291.42 708.66 L293.19 708.68 L294.97 708.7 L296.76 708.72 L298.56 708.74 L300.36 708.76 L302.17 708.78 L303.99 708.8 L305.82 708.82 L307.65 708.84 L309.5 708.85 L311.35 708.87 L313.2 708.89 L315.07 708.91 L316.94 708.93 L318.82 708.94 L320.71 708.96 L322.61 708.98 L324.51 709 L326.42 709.01 L328.34 709.03" stroke="#00008c" stroke-width="2.2" stroke-dasharray="5.2 1.9" fill="none"/>
</g>
<path d="M86.7 687.5 L109.85 654.95 L118.8 662.6 L134 668.4 L152.5 673.4 L185 678.4 L228 682.3 L265 683.8 L320.7 685.4 L320.7 709.74 L224 721.02 L224 718.8 L115.2 718.8 L115.2 727.2 L95.7 727.2 L95.7 718.8 L86.7 718.8Z" fill="none" stroke="#000" stroke-width="4.6" stroke-linejoin="miter"/>
<rect x="48.3" y="468.39" width="273.31" height="273.11" fill="none" stroke="#000" stroke-opacity="0.17" stroke-width="1.1"/>
<path d="M48.3 741.5 h3" stroke="#777" stroke-width="0.8"/>
<text x="45.7" y="745.1" text-anchor="end" class="tk">0</text>
<path d="M48.3 678.1 h3" stroke="#777" stroke-width="0.8"/>
<text x="45.7" y="681.7" text-anchor="end" class="tk">1</text>
<path d="M48.3 614.7 h3" stroke="#777" stroke-width="0.8"/>
<text x="45.7" y="618.3" text-anchor="end" class="tk">2</text>
<path d="M48.3 551.3 h3" stroke="#777" stroke-width="0.8"/>
<text x="45.7" y="554.9" text-anchor="end" class="tk">3</text>
<path d="M48.3 487.9 h3" stroke="#777" stroke-width="0.8"/>
<text x="45.7" y="491.5" text-anchor="end" class="tk">4</text>
<path d="M48.3 741.5 v-3" stroke="#777" stroke-width="0.8"/>
<text x="49.3" y="753.7" text-anchor="middle" class="tk">0</text>
<path d="M111.6 741.5 v-3" stroke="#777" stroke-width="0.8"/>
<text x="111.6" y="753.7" text-anchor="middle" class="tk">10</text>
<path d="M174.9 741.5 v-3" stroke="#777" stroke-width="0.8"/>
<text x="174.9" y="753.7" text-anchor="middle" class="tk">20</text>
<path d="M238.2 741.5 v-3" stroke="#777" stroke-width="0.8"/>
<text x="238.2" y="753.7" text-anchor="middle" class="tk">30</text>
<path d="M301.5 741.5 v-3" stroke="#777" stroke-width="0.8"/>
<text x="301.5" y="753.7" text-anchor="middle" class="tk">40</text>
<circle cx="140.2" cy="254.7" r="14.7" fill="#fff" stroke="#333" stroke-width="1"/>
<text x="140.1" y="262.6" text-anchor="middle" class="cm" style="font-size:24px" textLength="15.2" lengthAdjust="spacingAndGlyphs">C</text>
<circle cx="144" cy="691.9" r="14.7" fill="#fff" stroke="#333" stroke-width="1"/>
<text x="144.9" y="699.2" text-anchor="middle" class="cm" style="font-size:21px">D</text>
<text x="82.4" y="23.6" class="mi" textLength="10.8" lengthAdjust="spacingAndGlyphs">b</text>
<text x="100.6" y="25.2" class="mr" textLength="21" lengthAdjust="spacingAndGlyphs">=</text>
<text x="130.5" y="23.6" class="mi" textLength="17.7" lengthAdjust="spacingAndGlyphs">B</text>
<text x="149.6" y="26.6" class="ms" textLength="10.2" lengthAdjust="spacingAndGlyphs">0</text>
<text x="170.3" y="25.2" class="mr" textLength="20.9" lengthAdjust="spacingAndGlyphs">=</text>
<text x="198.3" y="23.6" class="mr" textLength="67.3" lengthAdjust="spacingAndGlyphs">const.</text>
<text x="108.2" y="459.6" class="mi" textLength="11.8" lengthAdjust="spacingAndGlyphs">b</text>
<text x="127.6" y="461.2" class="mr" textLength="18.2" lengthAdjust="spacingAndGlyphs">=</text>
<text x="156" y="459.6" class="mi" textLength="18.3" lengthAdjust="spacingAndGlyphs">B</text>
<text x="175.5" y="462.6" class="ms" textLength="9.1" lengthAdjust="spacingAndGlyphs">0</text>
<text x="193.7" y="459.6" class="mi" textLength="10.3" lengthAdjust="spacingAndGlyphs">s</text>
<text x="218.8" y="459.6" class="mi" textLength="19.3" lengthAdjust="spacingAndGlyphs">U</text><path d="M206.3 465.6 L215.4 440.6" stroke="#111" stroke-width="1.25" stroke-linecap="round"/>
<text x="15.3" y="342" class="mi2" textLength="10.6" lengthAdjust="spacingAndGlyphs">a</text><text x="27.0" y="345.4" class="mis" textLength="14.1" lengthAdjust="spacingAndGlyphs">m</text><text x="43.7" y="342" class="mr2" textLength="289.2" lengthAdjust="spacingAndGlyphs">(1/day) maximum division rate</text>
<text x="15.3" y="781.5" class="mi2" textLength="10.6" lengthAdjust="spacingAndGlyphs">a</text><text x="27.0" y="784.9" class="mis" textLength="14.1" lengthAdjust="spacingAndGlyphs">m</text><text x="43.7" y="781.5" class="mr2" textLength="289.2" lengthAdjust="spacingAndGlyphs">(1/day) maximum division rate</text>
<g transform="translate(17.4 323.3) rotate(-90)"><text x="0" y="0" class="mr2" textLength="12.7" lengthAdjust="spacingAndGlyphs">Λ</text><text x="15.1" y="3.1" class="mis" textLength="13.8" lengthAdjust="spacingAndGlyphs">m</text><text x="31.6" y="0" class="mr2" textLength="268.8" lengthAdjust="spacingAndGlyphs">(1/day) maximum death rate</text></g>
<g transform="translate(17.4 758.5) rotate(-90)"><text x="0" y="0" class="mr2" textLength="12.7" lengthAdjust="spacingAndGlyphs">Λ</text><text x="15.1" y="3.1" class="mis" textLength="13.8" lengthAdjust="spacingAndGlyphs">m</text><text x="31.6" y="0" class="mr2" textLength="268.8" lengthAdjust="spacingAndGlyphs">(1/day) maximum death rate</text></g>
<text x="15.6" y="15.6" class="pl">A</text>
<text x="14.6" y="439" class="pl">B</text>
<rect x="351.1" y="41.7" width="64.8" height="32.7" fill="#fff" stroke="#5a5a5a" stroke-width="1.8"/>
<rect x="349.9" y="114.2" width="67.1" height="34.6" fill="#9a9a9a"/>
<rect x="351.2" y="188.5" width="64.2" height="32.3" fill="#ffb4b4" stroke="#ff1010" stroke-width="1.8"/>
<path d="M351.3 204.85 H415.3" stroke="#ff1010" stroke-width="2.2" stroke-dasharray="7 3.4" stroke-dashoffset="-0.5"/>
<rect x="351.2" y="262.4" width="64.2" height="32.1" fill="#cfcfe6" stroke="#14148c" stroke-width="1.8"/>
<path d="M351.3 278.65 H415.3" stroke="#0a0a8c" stroke-width="2.2" stroke-dasharray="7 3.4" stroke-dashoffset="-0.5"/>
<text x="431" y="52.3" class="lg">Cell populations homeostatic</text>
<text x="431" y="73.2" class="lg">in physiological time.</text>
<text x="431" y="125.9" class="lg">Cell populations not homeostatic</text>
<text x="431" y="146.8" class="lg">in physiological time.</text>
<text x="431" y="189.5" class="lg">Maximum frequency of symmetric</text>
<text x="431" y="210.4" class="lg">fate outcomes agree with experiments.</text>
<text x="431" y="230.5" class="lg">Mean frequency (dashes).</text>
<text x="431" y="262.7" class="lg">Division rate at homeostasis</text>
<text x="431" y="283.6" class="lg">agree with experiments.</text>
<text x="431" y="304.1" class="lg">Mean rate (dashes).</text>
<rect x="534.09" y="357.4" width="90.09" height="160.8" fill="#fdf2e0"/>
<path d="M444 355.9 H713.5" stroke="#aaa" stroke-width="1.3"/>
<path d="M444.2 355.9 V518.2" stroke="#bbb" stroke-width="1.2"/>
<path d="M438 518.2 H721" stroke="#777" stroke-width="1.3"/>
<path d="M444 517.9 h3.5" stroke="#777" stroke-width="0.9"/>
<text x="439.6" y="522.9" text-anchor="end" class="tk2">0</text>
<path d="M444 495.6 h3.5" stroke="#777" stroke-width="0.9"/>
<text x="439.6" y="500.6" text-anchor="end" class="tk2">1000</text>
<path d="M444 473.3 h3.5" stroke="#777" stroke-width="0.9"/>
<text x="439.6" y="478.3" text-anchor="end" class="tk2">2000</text>
<path d="M444 451 h3.5" stroke="#777" stroke-width="0.9"/>
<text x="439.6" y="456" text-anchor="end" class="tk2">3000</text>
<path d="M444 428.7 h3.5" stroke="#777" stroke-width="0.9"/>
<text x="439.6" y="433.7" text-anchor="end" class="tk2">4000</text>
<path d="M444 406.4 h3.5" stroke="#777" stroke-width="0.9"/>
<text x="439.6" y="411.4" text-anchor="end" class="tk2">5000</text>
<path d="M444 384.1 h3.5" stroke="#777" stroke-width="0.9"/>
<text x="439.6" y="389.1" text-anchor="end" class="tk2">6000</text>
<path d="M444 361.8 h3.5" stroke="#777" stroke-width="0.9"/>
<text x="439.6" y="366.8" text-anchor="end" class="tk2">7000</text>
<path d="M534.09 517.9 v-3" stroke="#777" stroke-width="0.9"/>
<path d="M624.18 517.9 v-3" stroke="#777" stroke-width="0.9"/>
<path d="M714.27 517.9 v-3" stroke="#777" stroke-width="0.9"/>
<text x="447.7" y="532.2" text-anchor="middle" class="tk2">0</text>
<text x="533.6" y="532.2" text-anchor="middle" class="tk2">7</text>
<text x="625.2" y="532.2" text-anchor="middle" class="tk2">14</text>
<text x="714.7" y="532.2" text-anchor="middle" class="tk2">21</text>
<path d="M444 502.6 C448.67 502.2 453.33 501.72 458 501.4 C462.67 501.08 467.33 500.6 472 500.6 C476.33 500.6 480.67 501.08 485 501.3 C489.13 501.51 493.27 501.9 497.4 501.9 C503.27 501.9 509.13 501.37 515 501.2 C519.33 501.08 523.67 500.9 528 500.9 C530.03 500.9 532.07 501 534.1 501 C534.93 501 535.77 500.34 536.6 499.7 C537.3 499.16 538 498.22 538.7 496.7 C539.2 495.61 539.7 493.14 540.2 490.6 C540.7 488.06 541.2 484.35 541.7 480.5 C542.2 476.65 542.7 472.55 543.2 467 C543.6 462.56 544 455.44 544.4 450 C545.03 441.39 545.67 432.7 546.3 425.3 C547.1 415.95 547.9 408.95 548.7 400 C549.17 394.78 549.63 387.99 550.1 383.5 C550.57 379.01 551.03 374.65 551.5 372.1 C552.17 368.45 552.83 365.43 553.5 364.1 C554.47 362.17 555.43 360.4 556.4 360.4 C557.33 360.4 558.27 362.05 559.2 363.5 C559.97 364.69 560.73 367.05 561.5 369.2 C562.27 371.35 563.03 373.95 563.8 376.6 C564.57 379.25 565.33 382.11 566.1 385.2 C566.83 388.16 567.57 391.28 568.3 394.8 C569.33 399.77 570.37 406.82 571.4 411.6 C572.67 417.46 573.93 422.19 575.2 426.8 C576.47 431.41 577.73 435.82 579 439.5 C580.67 444.34 582.33 448.49 584 452.2 C585.7 455.98 587.4 459.16 589.1 462.3 C590.8 465.44 592.5 468.9 594.2 471.1 C595.3 472.52 596.4 473.84 597.5 474.6 C598.33 475.17 599.17 475.9 600 475.9 C601.17 475.9 602.33 475.07 603.5 474.1 C604.53 473.24 605.57 470.58 606.6 467.9 C607.5 465.56 608.4 461.69 609.3 458.1 C610.17 454.64 611.03 450.06 611.9 446.6 C612.8 443.01 613.7 439.95 614.6 436.8 C615.47 433.76 616.33 430.23 617.2 428 C618.1 425.68 619 423.38 619.9 422.4 C621.07 421.13 622.23 419.9 623.4 419.9 C624.53 419.9 625.67 421.15 626.8 422.4 C627.93 423.65 629.07 426.98 630.2 429.8 C631.37 432.71 632.53 436.52 633.7 440 C634.83 443.38 635.97 447.26 637.1 450.4 C638.23 453.54 639.37 456.24 640.5 459 C641.63 461.76 642.77 464.41 643.9 467 C645.43 470.51 646.97 474.15 648.5 477.2 C650.4 480.98 652.3 484.56 654.2 487.4 C656.07 490.19 657.93 492.65 659.8 494.6 C661.7 496.58 663.6 498.26 665.5 499.6 C667.8 501.22 670.1 502.31 672.4 503.6 C674.37 504.7 676.33 506.02 678.3 506.8 C680.93 507.84 683.57 508.94 686.2 509.2 C687.8 509.36 689.4 509.5 691 509.5 C692.57 509.5 694.13 507.45 695.7 506 C697.8 504.06 699.9 500.57 702 498.1 C704.13 495.59 706.27 492.23 708.4 491 C709.7 490.25 711 489.4 712.3 489.4 C713.47 489.4 714.63 490.13 715.8 490.5" stroke="#0a0aff" stroke-width="1.9" fill="none"/>
<path d="M444 515.1 C448.2 514.87 452.4 514.4 456.6 514.4 C461.7 514.4 466.8 514.88 471.9 515.1 C478.7 515.39 485.5 515.9 492.3 515.9 C499.07 515.9 505.83 514.6 512.6 514.6 C516.73 514.6 520.87 515.1 525 515.1 C527.87 515.1 530.73 515.1 533.6 515.1 C534.27 515.1 534.93 512.63 535.6 509.8 C536.1 507.68 536.6 501.58 537.1 495.7 C537.63 489.43 538.17 478.8 538.7 470.4 C539.13 463.57 539.57 459.37 540 450 C540.2 445.68 540.4 436.15 540.6 431.6 C540.9 424.78 541.2 417.85 541.5 415.8 C542.03 412.15 542.57 409.5 543.1 409.5 C543.63 409.5 544.17 413.04 544.7 415.8 C545.13 418.04 545.57 421.72 546 425.3 C546.83 432.19 547.67 442.06 548.5 450 C548.87 453.49 549.23 456.96 549.6 460.2 C550.33 466.67 551.07 474.3 551.8 478.5 C553 485.37 554.2 489.56 555.4 493.6 C556.73 498.09 558.07 502.29 559.4 504.8 C561.1 508 562.8 510.35 564.5 511.9 C566.5 513.72 568.5 515.15 570.5 515.9 C572 516.46 573.5 517.1 575 517.1 C578.8 517.1 582.6 516.75 586.4 516.3 C588.27 516.08 590.13 515.58 592 514.8 C593.1 514.34 594.2 513.4 595.3 512.2 C596.47 510.93 597.63 508.42 598.8 506 C599.83 503.86 600.87 501.18 601.9 498.3 C602.87 495.6 603.83 492.16 604.8 489.1 C605.6 486.56 606.4 482.89 607.2 481.5 C608.17 479.82 609.13 478.1 610.1 478.1 C611.07 478.1 612.03 480.41 613 482 C614.1 483.81 615.2 486.17 616.3 489.1 C617.03 491.05 617.77 494.34 618.5 496.5 C619.33 498.95 620.17 501.2 621 503 C622 505.16 623 506.92 624 508.5 C624.83 509.82 625.67 511.01 626.5 512 C627.4 513.07 628.3 514.2 629.2 514.8 C630.47 515.64 631.73 516.25 633 516.6 C634.4 516.98 635.8 517.34 637.2 517.4 C645.63 517.77 654.07 517.9 662.5 517.9 C668.67 517.9 674.83 517.82 681 517.6 C682.2 517.56 683.4 517.34 684.6 517.1 C685.47 516.92 686.33 516.59 687.2 516.2 C687.93 515.87 688.67 515.43 689.4 514.8 C690.2 514.11 691 512.72 691.8 511.5 C692.57 510.33 693.33 508.62 694.1 507.6 C694.9 506.54 695.7 505.58 696.5 505 C697.3 504.42 698.1 503.7 698.9 503.7 C699.67 503.7 700.43 504.43 701.2 505 C702 505.59 702.8 506.79 703.6 507.6 C704.67 508.68 705.73 509.67 706.8 510.6 C707.87 511.53 708.93 512.5 710 513.2 C711.93 514.47 713.87 515.27 715.8 516.3" stroke="#ff0a0a" stroke-width="1.9" fill="none"/>
<text x="381.9" y="360.7" class="pl2">C</text>
<text transform="translate(403.9 449.7) rotate(-90)" text-anchor="middle" class="ax" textLength="108" lengthAdjust="spacingAndGlyphs">cell numbers</text>
<text x="545.6" y="550.1" class="ax" textLength="95.9" lengthAdjust="spacingAndGlyphs">time (days)</text>
<text x="642" y="387.9" class="ax" style="fill:#0a0aff;stroke:#0a0aff" textLength="101" lengthAdjust="spacingAndGlyphs">enterocytes</text>
<text x="642" y="413.4" class="ax" style="fill:#ff0a0a;stroke:#ff0a0a" textLength="87" lengthAdjust="spacingAndGlyphs">stem cells</text>
<text x="473" y="349" class="el">1x E<tspan dx="4" dy="2.6" font-size="10.8">in</tspan></text>
<text x="561" y="349" class="el">4x E<tspan dx="4" dy="2.6" font-size="10.8">in</tspan></text>
<text x="652.3" y="349" class="el">1x E<tspan dx="4" dy="2.6" font-size="10.8">in</tspan></text>
<rect x="534.09" y="592.2" width="90.09" height="160.4" fill="#fdf2e0"/>
<path d="M444 590.7 H713.5" stroke="#aaa" stroke-width="1.3"/>
<path d="M444.2 590.7 V752.6" stroke="#bbb" stroke-width="1.2"/>
<path d="M438 752.6 H721" stroke="#777" stroke-width="1.3"/>
<path d="M444 751.3 h3.5" stroke="#777" stroke-width="0.9"/>
<text x="439.6" y="756.3" text-anchor="end" class="tk2">0</text>
<path d="M444 703 h3.5" stroke="#777" stroke-width="0.9"/>
<text x="439.6" y="708" text-anchor="end" class="tk2">1000</text>
<path d="M444 654.7 h3.5" stroke="#777" stroke-width="0.9"/>
<text x="439.6" y="659.7" text-anchor="end" class="tk2">2000</text>
<path d="M444 606.4 h3.5" stroke="#777" stroke-width="0.9"/>
<text x="439.6" y="611.4" text-anchor="end" class="tk2">3000</text>
<path d="M534.09 751.3 v-3" stroke="#777" stroke-width="0.9"/>
<path d="M624.18 751.3 v-3" stroke="#777" stroke-width="0.9"/>
<path d="M714.27 751.3 v-3" stroke="#777" stroke-width="0.9"/>
<text x="447.7" y="767" text-anchor="middle" class="tk2">0</text>
<text x="533.6" y="767" text-anchor="middle" class="tk2">7</text>
<text x="625.2" y="767" text-anchor="middle" class="tk2">14</text>
<text x="714.7" y="767" text-anchor="middle" class="tk2">21</text>
<path d="M444 718.7 C446.67 718.33 449.33 717.94 452 717.6 C455.67 717.13 459.33 716.45 463 716.3 C468.67 716.07 474.33 715.9 480 715.9 C495 715.9 510 716.1 525 716.1 C527.93 716.1 530.87 716.1 533.8 716.1 C534.7 716.1 535.6 714.93 536.5 713.4 C537.33 711.99 538.17 705.56 539 700.2 C539.8 695.05 540.6 687.44 541.4 680.5 C542.23 673.27 543.07 664.89 543.9 657.5 C544.73 650.11 545.57 642.07 546.4 636.1 C547.2 630.37 548 624.92 548.8 621.3 C549.9 616.33 551 612.05 552.1 609.8 C553.47 607.01 554.83 604.73 556.2 604 C557.87 603.11 559.53 602.4 561.2 602.4 C563.37 602.4 565.53 603.06 567.7 603.5 C569.9 603.95 572.1 605.12 574.3 605.2 C577.87 605.33 581.43 605.36 585 605.4 C595 605.51 605 605.52 615 605.6 C618.3 605.63 621.6 605.62 624.9 605.7 C625.7 605.72 626.5 607 627.3 608.2 C628.4 609.85 629.5 614.47 630.6 618 C631.7 621.53 632.8 625.4 633.9 629.5 C635 633.6 636.1 638.3 637.2 642.7 C638.3 647.1 639.4 651.8 640.5 655.9 C641.6 660 642.7 663.73 643.8 667.4 C645.17 671.96 646.53 676.49 647.9 680.5 C649.53 685.29 651.17 689.97 652.8 693.7 C654.47 697.51 656.13 701.01 657.8 703.6 C659.97 706.97 662.13 709.99 664.3 711.8 C666.5 713.63 668.7 715.32 670.9 715.9 C673.1 716.48 675.3 717 677.5 717 C679.67 717 681.83 716.48 684 716.3 C686 716.14 688 715.9 690 715.9 C698.57 715.9 707.13 715.97 715.7 716" stroke="#0a0aff" stroke-width="1.9" fill="none"/>
<path d="M444 746.2 C459.33 746 474.67 745.79 490 745.6 C501.67 745.46 513.33 745.38 525 745.2 C528.23 745.15 531.47 745.17 534.7 745 C535.4 744.96 536.1 736.87 536.8 733.6 C537.5 730.33 538.2 726.31 538.9 725 C540 722.94 541.1 721.5 542.2 721.2 C543.27 720.91 544.33 720.7 545.4 720.7 C547.17 720.7 548.93 722.07 550.7 722.4 C553.57 722.94 556.43 723.5 559.3 723.5 C569.3 723.5 579.3 723.5 589.3 723.5 C600.93 723.5 612.57 723.3 624.2 723.3 C625.1 723.3 626 727.4 626.9 729.3 C627.97 731.55 629.03 734.04 630.1 735.7 C631.53 737.94 632.97 740.02 634.4 741.1 C637.27 743.25 640.13 744.7 643 745.4 C646.57 746.28 650.13 747.1 653.7 747.1 C657.27 747.1 660.83 746.76 664.4 746.5 C667.97 746.24 671.53 745.61 675.1 745.4 C678.4 745.21 681.7 745 685 745 C695.23 745 705.47 745 715.7 745" stroke="#ff0a0a" stroke-width="1.9" fill="none"/>
<text x="381.2" y="605" class="pl2">D</text>
<text transform="translate(407.1 682.2) rotate(-90)" text-anchor="middle" class="ax" textLength="108" lengthAdjust="spacingAndGlyphs">cell numbers</text>
<text x="545.6" y="785" class="ax" textLength="95.9" lengthAdjust="spacingAndGlyphs">time (days)</text>
<text x="642" y="620.5" class="ax" style="fill:#0a0aff;stroke:#0a0aff" textLength="101" lengthAdjust="spacingAndGlyphs">enterocytes</text>
<text x="642" y="646" class="ax" style="fill:#ff0a0a;stroke:#ff0a0a" textLength="87" lengthAdjust="spacingAndGlyphs">stem cells</text>
<text x="473" y="584.2" class="el">1x E<tspan dx="4" dy="2.6" font-size="10.8">in</tspan></text>
<text x="561" y="584.2" class="el">4x E<tspan dx="4" dy="2.6" font-size="10.8">in</tspan></text>
<text x="652.3" y="584.2" class="el">1x E<tspan dx="4" dy="2.6" font-size="10.8">in</tspan></text>
</svg>
</body></html>
